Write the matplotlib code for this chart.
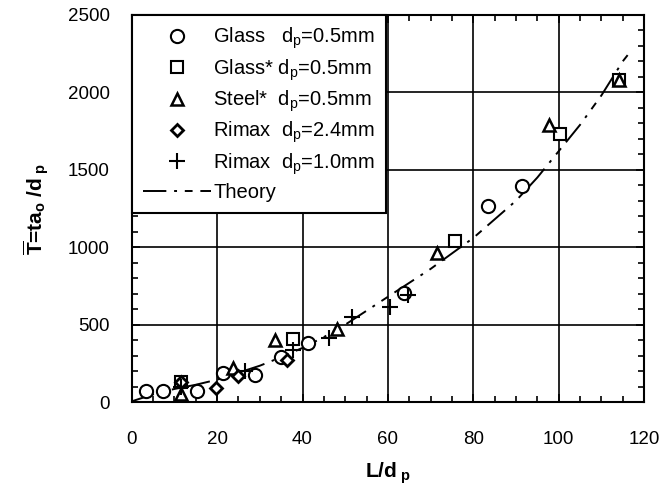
import matplotlib
matplotlib.use("Agg")
import matplotlib.pyplot as plt
from matplotlib.ticker import MultipleLocator

plt.rcParams['font.family'] = ['Liberation Sans', 'DejaVu Sans']
plt.rcParams['mathtext.fontset'] = 'custom'
plt.rcParams['mathtext.rm'] = 'Liberation Sans'
plt.rcParams['mathtext.it'] = 'Liberation Sans'
plt.rcParams['mathtext.bf'] = 'Liberation Sans:bold'

# data
glass_L = [3.4, 7.4, 15.3, 21.4, 28.9, 35.0, 41.3, 63.7, 83.4, 91.4]
glass_T = [73, 73, 73, 185, 174, 290, 383, 705, 1263, 1398]
glass_star_L = [11.5, 37.7, 75.8, 100.2, 114.2]
glass_star_T = [131, 405, 1043, 1730, 2077]
steel_L = [11.5, 23.8, 33.6, 48.0, 71.6, 97.8, 114.2]
steel_T = [50, 218, 401, 470, 961, 1790, 2077]
rimax24_L = [11.5, 19.8, 24.8, 36.3]
rimax24_T = [128, 92, 168, 275]
rimax10_L = [11.5, 26.6, 37.7, 46.1, 51.6, 60.5, 64.8]
rimax10_T = [100, 202, 336, 411, 547, 612, 690]
theory_L = [0, 5, 10, 15, 20, 25, 30, 35, 40, 45, 50, 55, 60, 65, 70, 75,
            80, 85, 90, 95, 100, 105, 110, 115, 117]
theory_T = [5, 50, 85, 112, 145, 190, 235, 290, 350, 420, 500, 590, 680, 770,
            860, 960, 1060, 1180, 1300, 1450, 1620, 1790, 1980, 2200, 2270]

labels = [r"Glass   d$_\mathregular{p}$=0.5mm",
          r"Glass* d$_\mathregular{p}$=0.5mm",
          r"Steel*  d$_\mathregular{p}$=0.5mm",
          r"Rimax  d$_\mathregular{p}$=2.4mm",
          r"Rimax  d$_\mathregular{p}$=1.0mm",
          "Theory"]

fig = plt.figure(figsize=(6.62, 4.94), dpi=100)
ax = fig.add_axes([0.199, 0.186, 0.774, 0.784])

ax.plot(glass_L, glass_T, 'o', ms=9.5, mfc='white', mec='black', mew=1.5, label=labels[0], zorder=3)
ax.plot(glass_star_L, glass_star_T, 's', ms=8, mfc='white', mec='black', mew=1.5, label=labels[1], zorder=3)
ax.plot(steel_L, steel_T, '^', ms=8, mfc='white', mec='black', mew=1.8, label=labels[2], zorder=3)
ax.plot(rimax24_L, rimax24_T, 'D', ms=6, mfc='white', mec='black', mew=2, label=labels[3], zorder=3)
ax.plot(rimax10_L, rimax10_T, '+', ms=11, mec='black', mew=1.5, label=labels[4], zorder=3)
ax.plot(theory_L, theory_T, color='black', lw=1.4, ls=(0, (12, 4, 1.5, 4, 4, 4)), label=labels[5], zorder=2)

ax.set_xlim(0, 120)
ax.set_ylim(0, 2500)
ax.xaxis.set_major_locator(MultipleLocator(20))
ax.xaxis.set_minor_locator(MultipleLocator(5))
ax.yaxis.set_major_locator(MultipleLocator(500))
ax.yaxis.set_minor_locator(MultipleLocator(100))
ax.grid(True, which='major', color='black', lw=1.2)
ax.tick_params(which='both', direction='in', top=True, right=True, labelsize=13.5, width=1.2)
ax.tick_params(which='major', length=6)
ax.tick_params(which='minor', length=4)
ax.tick_params(axis='x', which='major', pad=21)
ax.tick_params(axis='y', which='major', pad=16)
for s in ax.spines.values():
    s.set_linewidth(1.5)

ax.set_xlabel(r"L/d$_{\ \mathbf{p}}$", fontsize=15, fontweight='bold', labelpad=9)
ax.set_ylabel(r"$\overline{\mathbf{T}}$=ta$_\mathbf{o}$ /d$_{\ \mathbf{p}}$", fontsize=15,
              fontweight='bold', labelpad=12)

leg = ax.legend(loc='upper left', fontsize=14.5, frameon=True, fancybox=False,
                edgecolor='black', framealpha=1, borderaxespad=0,
                handlelength=3.4, handletextpad=0.1, labelspacing=0.29,
                borderpad=0.55)
leg.get_frame().set_linewidth(1.5)

fig.savefig('out.png', dpi=100)
